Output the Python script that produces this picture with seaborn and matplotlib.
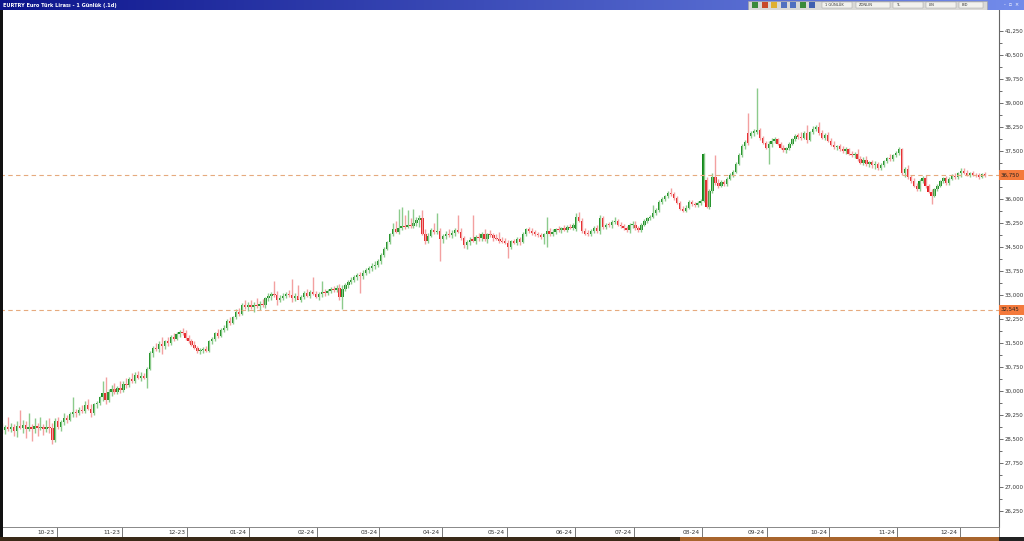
import numpy as np
import pandas as pd
import matplotlib
matplotlib.use('Agg')
import matplotlib.pyplot as plt
import matplotlib.transforms as mtrans
from matplotlib.patches import Rectangle
import seaborn as sns


# EURTRY daily candles, one list per month: (open, high, low, close)
sep23 = [(28.85, 29.00, 28.70, 28.78), (28.78, 28.95, 28.65, 28.88), (28.88, 29.20, 28.75, 28.82),
         (28.82, 29.00, 28.72, 28.86), (28.86, 28.98, 28.60, 28.74), (28.74, 29.05, 28.55, 28.90),
         (28.90, 29.40, 28.80, 28.84), (28.84, 29.10, 28.70, 28.93), (28.93, 29.05, 28.52, 28.80),
         (28.80, 29.30, 28.75, 28.86), (28.86, 28.98, 28.45, 28.82), (28.82, 29.15, 28.70, 28.90),
         (28.90, 29.00, 28.60, 28.85), (28.85, 29.20, 28.78, 28.88), (28.88, 28.96, 28.62, 28.80),
         (28.80, 29.10, 28.72, 28.87), (28.87, 29.15, 28.70, 28.84), (28.84, 29.00, 28.35, 28.48),
         (28.48, 29.15, 28.40, 29.05)]
oct23 = [(29.05, 29.20, 28.80, 28.86), (28.86, 29.10, 28.75, 29.02), (29.02, 29.30, 28.95, 29.15),
         (29.15, 29.25, 29.00, 29.10), (29.10, 29.35, 29.05, 29.28), (29.28, 29.80, 29.20, 29.35),
         (29.35, 29.45, 29.20, 29.30), (29.30, 29.50, 29.25, 29.42), (29.42, 29.55, 29.30, 29.38),
         (29.38, 29.70, 29.30, 29.55), (29.55, 29.75, 29.40, 29.45), (29.45, 29.60, 29.20, 29.30),
         (29.30, 29.62, 29.25, 29.58), (29.58, 29.70, 29.48, 29.62), (29.62, 29.85, 29.55, 29.80),
         (29.80, 30.30, 29.70, 29.95), (29.95, 30.45, 29.60, 29.72), (29.72, 30.05, 29.65, 29.98),
         (29.98, 30.20, 29.85, 30.05), (30.05, 30.25, 29.90, 29.96), (29.96, 30.15, 29.92, 30.08),
         (30.08, 30.30, 29.95, 30.02)]
nov23 = [(30.02, 30.30, 29.98, 30.22), (30.22, 30.40, 30.10, 30.18), (30.18, 30.45, 30.12, 30.38),
         (30.38, 30.55, 30.25, 30.30), (30.30, 30.60, 30.25, 30.50), (30.50, 30.62, 30.38, 30.42),
         (30.42, 30.58, 30.30, 30.48), (30.48, 30.55, 30.38, 30.40), (30.40, 30.75, 30.10, 30.70),
         (30.70, 31.25, 30.65, 31.18), (31.18, 31.40, 31.05, 31.35), (31.35, 31.50, 31.25, 31.30),
         (31.30, 31.55, 31.22, 31.48), (31.48, 31.70, 31.15, 31.40), (31.40, 31.60, 31.32, 31.55),
         (31.55, 31.70, 31.42, 31.50), (31.50, 31.75, 31.45, 31.68), (31.68, 31.80, 31.55, 31.62),
         (31.62, 31.85, 31.58, 31.78), (31.78, 31.92, 31.70, 31.85), (31.85, 31.98, 31.75, 31.80),
         (31.80, 31.90, 31.60, 31.66)]
dec23 = [(31.66, 31.75, 31.50, 31.55), (31.55, 31.62, 31.40, 31.45), (31.45, 31.55, 31.30, 31.35),
         (31.35, 31.42, 31.18, 31.25), (31.25, 31.35, 31.15, 31.28), (31.28, 31.38, 31.20, 31.32),
         (31.32, 31.40, 31.22, 31.26), (31.26, 31.60, 31.22, 31.55), (31.55, 31.68, 31.48, 31.62),
         (31.62, 31.85, 31.55, 31.80), (31.80, 31.95, 31.65, 31.72), (31.72, 31.98, 31.68, 31.92),
         (31.92, 32.05, 31.85, 31.98), (31.98, 32.25, 31.90, 32.20), (32.20, 32.30, 32.05, 32.12),
         (32.12, 32.35, 32.08, 32.30), (32.30, 32.55, 32.25, 32.48), (32.48, 32.60, 32.35, 32.42),
         (32.42, 32.75, 32.38, 32.68), (32.68, 32.85, 32.55, 32.62), (32.62, 32.78, 32.50, 32.70)]
jan24 = [(32.70, 32.85, 32.55, 32.62), (32.62, 32.78, 32.48, 32.70), (32.70, 32.92, 32.60, 32.66),
         (32.66, 32.80, 32.52, 32.72), (32.72, 32.88, 32.62, 32.68), (32.68, 32.95, 32.60, 32.90),
         (32.90, 33.05, 32.82, 32.96), (32.96, 33.10, 32.85, 33.02), (33.02, 33.45, 32.95, 33.00),
         (33.00, 33.12, 32.70, 32.85), (32.85, 33.00, 32.78, 32.92), (32.92, 33.05, 32.85, 32.98),
         (32.98, 33.08, 32.90, 33.03), (33.03, 33.15, 32.95, 33.00), (33.00, 33.50, 32.78, 32.90),
         (32.90, 33.05, 32.82, 32.96), (32.96, 33.30, 32.88, 32.85), (32.85, 33.00, 32.78, 32.95),
         (32.95, 33.12, 32.88, 33.05), (33.05, 33.20, 32.95, 32.98), (32.98, 33.15, 32.90, 33.08),
         (33.08, 33.55, 33.00, 33.02), (33.02, 33.12, 32.90, 32.95)]
feb24 = [(32.95, 33.10, 32.85, 33.02), (33.02, 33.45, 32.95, 33.08), (33.08, 33.18, 32.98, 33.05),
         (33.05, 33.20, 33.00, 33.12), (33.12, 33.25, 33.05, 33.18), (33.18, 33.28, 33.08, 33.15),
         (33.15, 33.30, 33.10, 33.22), (33.22, 33.35, 32.85, 32.95), (32.95, 33.30, 32.55, 33.20),
         (33.20, 33.38, 33.12, 33.30), (33.30, 33.48, 33.22, 33.42), (33.42, 33.55, 33.35, 33.48),
         (33.48, 33.62, 33.40, 33.55), (33.55, 33.70, 33.48, 33.62), (33.62, 33.72, 33.05, 33.58),
         (33.58, 33.78, 33.50, 33.70), (33.70, 33.85, 33.62, 33.78), (33.78, 33.92, 33.68, 33.85),
         (33.85, 34.00, 33.75, 33.90), (33.90, 34.05, 33.80, 33.95), (33.95, 34.12, 33.88, 34.05)]
mar24 = [(34.05, 34.30, 33.98, 34.25), (34.25, 34.50, 34.18, 34.45), (34.45, 34.70, 34.40, 34.65),
         (34.65, 34.95, 34.60, 34.90), (34.90, 35.25, 34.85, 35.05), (35.05, 35.30, 34.95, 34.98),
         (34.98, 35.70, 34.92, 35.10), (35.10, 35.75, 35.02, 35.15), (35.15, 35.50, 35.05, 35.12),
         (35.12, 35.65, 35.08, 35.20), (35.20, 35.40, 35.10, 35.16), (35.16, 35.70, 35.10, 35.24),
         (35.24, 35.45, 35.15, 35.35), (35.35, 35.50, 35.12, 35.42), (35.42, 35.65, 34.88, 34.92),
         (34.92, 35.05, 34.60, 34.68), (34.68, 34.95, 34.62, 34.85), (34.85, 35.08, 34.80, 35.02),
         (35.02, 35.25, 34.92, 34.98), (34.98, 35.55, 34.90, 35.00), (35.00, 35.10, 34.05, 34.75)]
apr24 = [(34.75, 34.90, 34.62, 34.85), (34.85, 35.00, 34.75, 34.92), (34.92, 35.05, 34.82, 34.88),
         (34.88, 35.02, 34.78, 34.95), (34.95, 35.10, 34.85, 35.02), (35.02, 35.50, 34.95, 34.98),
         (34.98, 35.08, 34.72, 34.78), (34.78, 34.85, 34.48, 34.55), (34.55, 34.72, 34.45, 34.65),
         (34.65, 34.80, 34.55, 34.72), (34.72, 35.50, 34.65, 34.70), (34.70, 34.88, 34.60, 34.82),
         (34.82, 34.95, 34.70, 34.78), (34.78, 34.98, 34.68, 34.92), (34.92, 35.05, 34.68, 34.75),
         (34.75, 34.95, 34.62, 34.90), (34.90, 35.02, 34.80, 34.86), (34.86, 34.95, 34.70, 34.78),
         (34.78, 34.92, 34.72, 34.74), (34.74, 34.98, 34.62, 34.70), (34.70, 34.80, 34.62, 34.66),
         (34.66, 34.78, 34.58, 34.64)]
may24 = [(34.64, 34.72, 34.15, 34.50), (34.50, 34.72, 34.45, 34.68), (34.68, 34.75, 34.58, 34.62),
         (34.62, 34.80, 34.55, 34.75), (34.75, 34.82, 34.55, 34.66), (34.66, 34.98, 34.62, 34.92),
         (34.92, 35.10, 34.85, 35.05), (35.05, 35.12, 34.95, 35.00), (35.00, 35.08, 34.88, 34.95),
         (34.95, 35.02, 34.85, 34.92), (34.92, 34.98, 34.82, 34.86), (34.86, 34.95, 34.75, 34.82),
         (34.82, 34.95, 34.60, 34.90), (34.90, 35.45, 34.50, 35.00), (35.00, 35.08, 34.85, 34.90),
         (34.90, 35.05, 34.85, 34.98), (34.98, 35.10, 34.92, 35.06), (35.06, 35.15, 34.98, 35.02),
         (35.02, 35.12, 34.95, 35.08), (35.08, 35.18, 35.00, 35.04), (35.04, 35.20, 34.98, 35.14),
         (35.14, 35.22, 35.05, 35.10), (35.10, 35.25, 35.02, 35.18)]
jun24 = [(35.05, 35.55, 35.00, 35.45), (35.45, 35.58, 35.28, 35.32), (35.32, 35.40, 34.95, 35.00),
         (35.00, 35.10, 34.88, 34.92), (34.92, 35.02, 34.85, 34.90), (34.90, 35.05, 34.85, 35.00),
         (35.00, 35.15, 34.95, 35.10), (35.10, 35.18, 34.95, 35.00), (35.00, 35.50, 34.92, 35.42),
         (35.42, 35.48, 35.05, 35.12), (35.12, 35.25, 35.05, 35.20), (35.20, 35.28, 35.12, 35.18),
         (35.18, 35.35, 35.10, 35.28), (35.28, 35.45, 35.22, 35.32), (35.32, 35.38, 35.15, 35.20),
         (35.20, 35.28, 35.10, 35.15), (35.15, 35.22, 35.02, 35.08), (35.08, 35.15, 34.98, 35.02),
         (35.02, 35.25, 34.95, 35.18), (35.18, 35.32, 35.10, 35.20)]
jul24 = [(35.20, 35.32, 35.02, 35.08), (35.08, 35.15, 34.98, 35.02), (35.02, 35.25, 34.98, 35.20),
         (35.20, 35.38, 35.15, 35.32), (35.32, 35.45, 35.25, 35.40), (35.40, 35.50, 35.35, 35.45),
         (35.45, 35.80, 35.40, 35.55), (35.55, 35.72, 35.50, 35.65), (35.65, 35.98, 35.60, 35.92),
         (35.92, 36.05, 35.85, 36.00), (36.00, 36.12, 35.95, 36.10), (36.10, 36.25, 36.02, 36.20),
         (36.20, 36.35, 36.10, 36.15), (36.15, 36.22, 35.98, 36.02), (36.02, 36.08, 35.85, 35.88),
         (35.88, 35.95, 35.65, 35.70), (35.70, 35.78, 35.58, 35.62), (35.62, 35.80, 35.58, 35.72),
         (35.72, 35.98, 35.68, 35.90), (35.90, 35.98, 35.78, 35.85), (35.85, 35.92, 35.75, 35.80),
         (35.80, 35.95, 35.76, 35.88), (35.88, 36.00, 35.82, 35.95)]
aug24 = [(35.95, 37.45, 35.90, 37.40), (36.60, 36.70, 35.72, 35.75), (35.75, 36.30, 35.70, 36.25),
         (36.25, 36.80, 36.20, 36.70), (36.70, 37.38, 36.45, 36.50), (36.50, 36.62, 36.35, 36.42),
         (36.42, 36.58, 36.38, 36.52), (36.52, 36.60, 36.40, 36.46), (36.46, 36.68, 36.42, 36.62),
         (36.62, 36.80, 36.58, 36.75), (36.75, 36.92, 36.70, 36.85), (36.85, 37.15, 36.80, 37.10),
         (37.10, 37.45, 37.05, 37.38), (37.38, 37.72, 37.30, 37.65), (37.65, 37.85, 37.55, 37.78),
         (38.05, 38.70, 37.70, 37.75), (37.98, 38.12, 37.92, 38.06), (38.06, 38.20, 37.98, 38.12),
         (38.10, 39.48, 38.02, 38.15), (38.15, 38.22, 37.85, 37.90), (37.90, 37.98, 37.72, 37.76),
         (37.76, 37.82, 37.55, 37.60)]
sep24 = [(37.60, 37.80, 37.10, 37.72), (37.72, 37.90, 37.62, 37.82), (37.82, 37.95, 37.75, 37.88),
         (37.88, 37.92, 37.68, 37.72), (37.72, 37.78, 37.55, 37.60), (37.60, 37.68, 37.48, 37.52),
         (37.52, 37.62, 37.45, 37.58), (37.58, 37.78, 37.52, 37.72), (37.72, 37.92, 37.68, 37.88),
         (37.88, 38.02, 37.80, 37.98), (37.98, 38.05, 37.88, 37.95), (37.95, 38.10, 37.85, 37.90),
         (37.90, 38.12, 37.86, 38.05), (38.05, 38.30, 37.75, 37.85), (37.85, 38.12, 37.80, 38.08),
         (38.08, 38.28, 38.02, 38.20), (38.20, 38.32, 38.12, 38.25), (38.25, 38.40, 38.00, 38.05),
         (38.05, 38.15, 37.88, 37.92), (37.92, 38.05, 37.85, 38.00), (38.00, 38.10, 37.78, 37.82)]
oct24 = [(37.82, 37.90, 37.65, 37.70), (37.70, 37.80, 37.55, 37.62), (37.62, 37.70, 37.52, 37.66),
         (37.66, 37.72, 37.50, 37.55), (37.55, 37.65, 37.45, 37.50), (37.50, 37.62, 37.40, 37.56),
         (37.56, 37.60, 37.38, 37.42), (37.42, 37.50, 37.30, 37.36), (37.36, 37.48, 37.28, 37.40),
         (37.40, 37.55, 37.20, 37.25), (37.25, 37.35, 37.08, 37.12), (37.12, 37.30, 37.05, 37.22),
         (37.22, 37.35, 37.02, 37.08), (37.08, 37.20, 37.00, 37.15), (37.15, 37.22, 36.98, 37.05),
         (37.05, 37.18, 36.95, 37.10), (37.10, 37.15, 36.90, 36.98), (36.98, 37.12, 36.92, 37.06),
         (37.06, 37.22, 37.00, 37.18), (37.18, 37.32, 37.12, 37.28), (37.28, 37.40, 37.20, 37.25),
         (37.25, 37.42, 37.20, 37.38), (37.38, 37.50, 37.30, 37.45)]
nov24 = [(37.45, 37.62, 37.38, 37.55), (37.55, 37.60, 36.75, 36.80), (36.80, 37.00, 36.70, 36.95),
         (36.95, 37.05, 36.62, 36.68), (36.68, 36.75, 36.50, 36.55), (36.55, 36.65, 36.38, 36.42),
         (36.42, 36.50, 36.25, 36.30), (36.30, 36.62, 36.25, 36.55), (36.55, 36.72, 36.50, 36.65),
         (36.65, 36.75, 36.35, 36.40), (36.40, 36.48, 36.18, 36.22), (36.22, 36.30, 35.85, 36.10),
         (36.10, 36.35, 36.05, 36.30), (36.30, 36.48, 36.25, 36.42), (36.42, 36.60, 36.38, 36.55),
         (36.55, 36.70, 36.50, 36.65), (36.65, 36.72, 36.45, 36.50), (36.50, 36.68, 36.45, 36.62),
         (36.62, 36.78, 36.58, 36.72), (36.72, 36.80, 36.62, 36.68), (36.68, 36.85, 36.62, 36.80)]
dec24 = [(36.80, 36.98, 36.70, 36.88), (36.88, 36.98, 36.78, 36.82), (36.82, 36.90, 36.72, 36.76),
         (36.76, 36.85, 36.70, 36.80), (36.80, 36.88, 36.72, 36.75), (36.75, 36.82, 36.68, 36.72),
         (36.72, 36.80, 36.62, 36.70), (36.70, 36.82, 36.65, 36.78), (36.78, 36.85, 36.70, 36.75)]

month_labels = ['10-23', '11-23', '12-23', '01-24', '02-24', '03-24', '04-24', '05-24',
                '06-24', '07-24', '08-24', '09-24', '10-24', '11-24', '12-24']
last_price = 36.75
level_price = 32.545
title = 'EURTRY Euro Türk Lirası - 1 Günlük (.1d)'

months = [sep23, oct23, nov23, dec23, jan24, feb24, mar24, apr24,
          may24, jun24, jul24, aug24, sep24, oct24, nov24, dec24]
df = pd.DataFrame([row for m in months for row in m], columns=['Open', 'High', 'Low', 'Close'])
df['Date'] = pd.bdate_range('2023-09-05', periods=len(df))

sns.set_style('white')
plt.rcParams['font.family'] = ['DejaVu Sans']

W, H = 1024, 541
fig = plt.figure(figsize=(W / 100, H / 100), dpi=100)
fig.patch.set_facecolor('white')


def px_axes(x0, y0, x1, y1):
    return fig.add_axes([x0 / W, 1 - y1 / H, (x1 - x0) / W, (y1 - y0) / H])


def fmt(v):
    return f'{v:,.3f}'.replace('.', ',')


# main price panel
ax = px_axes(0, 10, 999, 527)
x = np.arange(len(df))
up = (df['Close'] >= df['Open']).values
lo = np.minimum(df['Open'], df['Close']).values
hgt = np.maximum((df['Close'] - df['Open']).abs().values, 0.035)

ax.vlines(x[up], df['Low'][up], df['High'][up], color='#8ccb8c', lw=1.0)
ax.vlines(x[~up], df['Low'][~up], df['High'][~up], color='#f3a0a0', lw=1.0)
ax.bar(x[up], hgt[up], bottom=lo[up], width=0.8, color='#12881a', linewidth=0)
ax.bar(x[~up], hgt[~up], bottom=lo[~up], width=0.8, color='#e3161b', linewidth=0)

dash = (0, (4, 3))
ax.axhline(last_price, color='#e6aa7e', lw=0.8, ls=dash)
ax.axhline(level_price, color='#e6aa7e', lw=0.8, ls=dash)

ax.set_xlim(-0.68, 336.8)
ax.set_ylim(25.75, 41.906)
yt = np.arange(26.25, 41.26, 0.75)
ax.yaxis.tick_right()
ax.set_yticks(yt)
ax.set_yticks(yt[:-1] + 0.375, minor=True)
# the price tag covers the scale label at the last price
ax.set_yticklabels(['' if abs(v - last_price) < 0.01 else fmt(v) for v in yt])
ax.tick_params(axis='y', which='major', length=3, width=0.6, color='#555',
               labelsize=3.9, labelcolor='#333', pad=1.0, right=True)
ax.tick_params(axis='y', which='minor', length=2, width=0.6, color='#555', right=True)
ax.set_xticks([])
for s in ['left', 'top', 'bottom']:
    ax.spines[s].set_visible(False)
ax.spines['right'].set_color('#666')
ax.spines['right'].set_linewidth(0.8)

# orange price tags on the right scale
tr = mtrans.blended_transform_factory(ax.transAxes, ax.transData)
tag_h = 10 * (41.906 - 25.75) / 517
for p in [last_price, level_price]:
    ax.add_patch(Rectangle((1.0, p - tag_h / 2), 25 / 999, tag_h, transform=tr,
                           facecolor='#f47a3c', edgecolor='none', clip_on=False, zorder=5))
    ax.text(1.0 + 2 / 999, p, fmt(p), transform=tr, fontsize=3.9,
            color='#222', va='center', ha='left', zorder=6, clip_on=False)

# month strip under the chart
xs = px_axes(0, 527, 999, 537)
xs.set_xlim(ax.get_xlim())
xs.set_ylim(0, 1)
starts = df.groupby(df['Date'].dt.to_period('M')).head(1).index[1:]
for pos, lab in zip(starts, month_labels):
    xs.axvline(pos - 0.5, color='#777', lw=0.7)
    xs.text(pos - 1.2, 0.45, lab, fontsize=4.2, color='#333', ha='right', va='center')
xs.set_xticks([])
xs.set_yticks([])
for s in xs.spines.values():
    s.set_color('#888')
    s.set_linewidth(0.7)

# window chrome: title bar, side and bottom strips
tb = px_axes(0, 0, W, 10)
grad = np.linspace(0, 1, 256)[None, :, None]
c0 = np.array([0.05, 0.08, 0.55])
c1 = np.array([0.45, 0.55, 0.92])
tb.imshow(c0 + (c1 - c0) * grad, aspect='auto', extent=[0, W, 10, 0])
tb.set_xlim(0, W)
tb.set_ylim(10, 0)
tb.axis('off')
tb.text(3, 5.2, title, color='white', fontsize=3.6, fontweight='bold', va='center', ha='left')
tb.add_patch(Rectangle((748, 0.5), 239, 9, facecolor='#d9d9d6', edgecolor='#a0a0a0', lw=0.4))
for x0, w, lab in [(822, 30, '1 GÜNLÜK'), (856, 34, 'ZONLIN'), (893, 30, 'TL'),
                   (926, 30, 'LIN'), (959, 24, 'BID')]:
    tb.add_patch(Rectangle((x0, 1.8), w, 6.4, facecolor='#f2f2ee', edgecolor='#9a9a9a', lw=0.3))
    tb.text(x0 + 3, 5.2, lab, fontsize=2.6, color='#333', va='center', ha='left')
for i, col in enumerate(['#3a8a3a', '#c84a2a', '#e0b030', '#5070c0', '#5070c0', '#3a8a3a', '#4060b0']):
    tb.add_patch(Rectangle((752 + i * 9.5, 2), 6, 6, facecolor=col, edgecolor='none'))
tb.text(1004, 5, '-  ▫  ×', fontsize=3.5, color='white', va='center', ha='left')

fig.patches.append(Rectangle((0, 0), 3 / W, 1 - 10 / H, transform=fig.transFigure,
                             facecolor='#111', edgecolor='none'))
fig.patches.append(Rectangle((0, 0), 680 / W, 4 / H, transform=fig.transFigure,
                             facecolor='#3a2a18', edgecolor='none'))
fig.patches.append(Rectangle((680 / W, 0), 319 / W, 4 / H, transform=fig.transFigure,
                             facecolor='#a8652d', edgecolor='none'))
fig.patches.append(Rectangle((999 / W, 0), 25 / W, 4 / H, transform=fig.transFigure,
                             facecolor='#222', edgecolor='none'))

fig.savefig('out.png', dpi=100)
